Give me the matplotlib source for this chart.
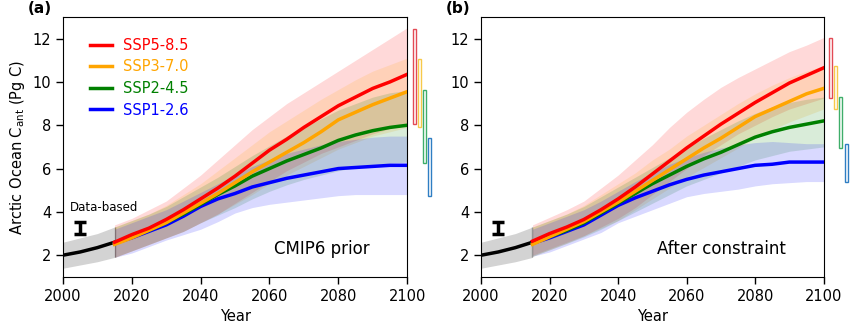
import matplotlib
matplotlib.use("Agg")
import matplotlib.pyplot as plt
import numpy as np
from matplotlib.patches import Rectangle

# annees
hist_years = [2000, 2005, 2010, 2015]
years = list(range(2015, 2101, 5))

# periode historique (Data-based)
hist_mean = [2.0, 2.15, 2.35, 2.6]
hist_low = [1.4, 1.55, 1.7, 1.9]
hist_high = [2.6, 2.8, 3.0, 3.3]
obs_x = 2005
obs_low = 2.97
obs_high = 3.55

scenarios = ["SSP5-8.5", "SSP3-7.0", "SSP2-4.5", "SSP1-2.6"]
line_colors = ["#ff0000", "#ffa500", "#008000", "#0000ff"]
bar_colors = ["#e34a55", "#f7c94a", "#3fae6a", "#2f7ec3"]

# (a) CMIP6 prior
prior_mean = [
    [2.6, 2.95, 3.25, 3.65, 4.1, 4.6, 5.1, 5.65, 6.25, 6.85, 7.35, 7.9, 8.4, 8.9, 9.3, 9.7, 10.0, 10.35],
    [2.5, 2.8, 3.15, 3.5, 3.95, 4.4, 4.85, 5.35, 5.85, 6.3, 6.75, 7.2, 7.7, 8.25, 8.6, 8.95, 9.25, 9.55],
    [2.55, 2.85, 3.15, 3.5, 3.9, 4.35, 4.8, 5.2, 5.65, 6.0, 6.35, 6.65, 6.95, 7.3, 7.55, 7.75, 7.9, 8.0],
    [2.55, 2.8, 3.1, 3.4, 3.8, 4.25, 4.6, 4.85, 5.15, 5.35, 5.55, 5.7, 5.85, 6.0, 6.05, 6.1, 6.15, 6.15],
]
prior_low = [
    [1.9, 2.2, 2.5, 2.8, 3.1, 3.5, 3.9, 4.4, 4.9, 5.4, 5.9, 6.3, 6.7, 7.0, 7.3, 7.6, 7.85, 8.05],
    [1.9, 2.2, 2.5, 2.8, 3.1, 3.5, 3.9, 4.35, 4.8, 5.3, 5.7, 6.1, 6.5, 6.9, 7.2, 7.5, 7.7, 7.9],
    [1.9, 2.2, 2.5, 2.8, 3.1, 3.5, 3.85, 4.2, 4.6, 4.95, 5.25, 5.5, 5.7, 5.9, 6.05, 6.15, 6.25, 6.3],
    [1.9, 2.1, 2.4, 2.7, 2.95, 3.2, 3.55, 3.95, 4.2, 4.35, 4.45, 4.55, 4.65, 4.75, 4.8, 4.8, 4.8, 4.8],
]
prior_high = [
    [3.4, 3.7, 4.1, 4.5, 5.1, 5.7, 6.4, 7.1, 7.8, 8.4, 9.0, 9.5, 10.0, 10.5, 11.0, 11.5, 12.0, 12.5],
    [3.3, 3.6, 3.9, 4.3, 4.8, 5.3, 5.9, 6.5, 7.1, 7.7, 8.2, 8.7, 9.2, 9.65, 10.1, 10.5, 10.8, 11.1],
    [3.3, 3.6, 3.9, 4.25, 4.7, 5.15, 5.6, 6.1, 6.6, 7.05, 7.5, 7.9, 8.3, 8.7, 9.0, 9.3, 9.5, 9.6],
    [3.2, 3.5, 3.8, 4.1, 4.5, 4.9, 5.3, 5.7, 6.1, 6.4, 6.7, 6.9, 7.1, 7.25, 7.35, 7.45, 7.5, 7.5],
]
prior_range_low = [8.05, 7.92, 6.28, 4.74]
prior_range_high = [12.43, 11.08, 9.63, 7.43]

# (b) After constraint
post_mean = [
    [2.65, 3.0, 3.3, 3.65, 4.1, 4.6, 5.15, 5.75, 6.35, 6.95, 7.5, 8.05, 8.55, 9.05, 9.5, 9.95, 10.3, 10.65],
    [2.5, 2.85, 3.2, 3.55, 4.0, 4.45, 4.95, 5.45, 5.95, 6.45, 6.95, 7.4, 7.9, 8.4, 8.75, 9.1, 9.45, 9.7],
    [2.55, 2.85, 3.15, 3.5, 3.95, 4.4, 4.85, 5.3, 5.7, 6.1, 6.45, 6.75, 7.1, 7.45, 7.7, 7.9, 8.05, 8.2],
    [2.55, 2.8, 3.1, 3.4, 3.85, 4.3, 4.65, 4.95, 5.25, 5.5, 5.7, 5.85, 6.0, 6.15, 6.2, 6.3, 6.3, 6.3],
]
post_low = [
    [2.0, 2.3, 2.6, 2.9, 3.3, 3.7, 4.2, 4.8, 5.4, 6.0, 6.6, 7.1, 7.6, 8.0, 8.4, 8.75, 9.0, 9.25],
    [1.95, 2.25, 2.55, 2.9, 3.25, 3.6, 4.1, 4.6, 5.1, 5.6, 6.05, 6.5, 6.95, 7.4, 7.8, 8.15, 8.45, 8.75],
    [1.95, 2.25, 2.55, 2.85, 3.2, 3.6, 4.0, 4.4, 4.8, 5.2, 5.5, 5.8, 6.1, 6.4, 6.6, 6.8, 6.9, 7.0],
    [1.95, 2.15, 2.45, 2.75, 3.05, 3.5, 3.8, 4.1, 4.4, 4.7, 4.85, 4.95, 5.05, 5.2, 5.3, 5.35, 5.4, 5.4],
]
post_high = [
    [3.4, 3.75, 4.1, 4.5, 5.1, 5.7, 6.4, 7.1, 7.9, 8.6, 9.2, 9.75, 10.2, 10.6, 11.0, 11.4, 11.7, 12.05],
    [3.3, 3.6, 3.9, 4.3, 4.8, 5.3, 5.8, 6.4, 6.9, 7.5, 8.0, 8.5, 9.0, 9.45, 9.85, 10.2, 10.5, 10.75],
    [3.3, 3.6, 3.9, 4.25, 4.7, 5.15, 5.6, 6.05, 6.5, 6.95, 7.4, 7.8, 8.2, 8.55, 8.85, 9.05, 9.2, 9.3],
    [3.2, 3.5, 3.8, 4.1, 4.5, 4.95, 5.4, 5.8, 6.2, 6.5, 6.75, 6.95, 7.1, 7.2, 7.25, 7.2, 7.15, 7.15],
]
post_range_low = [9.25, 8.74, 6.97, 5.4]
post_range_high = [12.05, 10.74, 9.29, 7.15]

# positions des barres d'incertitude a droite (en annees)
bar_x = [2101.6, 2103.1, 2104.6, 2106.1]


def draw_panel(fig, ax, mean, low, high, rlow, rhigh, title, letter, legend=False):
    # bande grise + courbe noire de la periode historique
    ax.fill_between(hist_years, hist_low, hist_high, color="#d3d3d3", lw=0, zorder=1)
    ax.vlines(hist_years[-1], hist_low[-1], hist_high[-1], color="#999999", lw=1, zorder=2)
    ax.plot(hist_years, hist_mean, color="black", lw=2.5, zorder=5)
    # scenarios
    for i in range(len(scenarios)):
        ax.fill_between(years, low[i], high[i], color=line_colors[i], alpha=0.15, lw=0, zorder=2)
    for i in range(len(scenarios)):
        ax.plot(years, mean[i], color=line_colors[i], lw=2.5, label=scenarios[i], zorder=6 - i * 0.1)
        ax.add_patch(Rectangle((bar_x[i], rlow[i]), 0.9, rhigh[i] - rlow[i], fill=False,
                               edgecolor=bar_colors[i], lw=1, clip_on=False))
    # erreur data-based
    ax.errorbar([obs_x], [(obs_low + obs_high) / 2], yerr=[(obs_high - obs_low) / 2],
                color="black", lw=2.5, capsize=4, capthick=2.5, zorder=7)
    ax.set_xlim(2000, 2100)
    ax.set_ylim(1, 13)
    ax.set_xticks(range(2000, 2101, 20))
    ax.set_yticks(range(2, 13, 2))
    ax.tick_params(labelsize=10.5, length=5, width=1)
    ax.set_xlabel("Year", fontsize=10.5)
    ax.text(2089, 2.28, title, fontsize=12, ha="right", va="center")
    # lettre du panneau, collee en haut de la figure
    x0 = ax.get_position().x0 - 0.041
    fig.text(x0, 0.997, letter, fontsize=11, fontweight="bold", ha="left", va="top")
    if legend:
        leg = ax.legend(loc="upper left", frameon=False, fontsize=10.5, handlelength=1.5,
                        labelspacing=0.45, bbox_to_anchor=(0.04, 0.97))
        for txt, c in zip(leg.get_texts(), line_colors):
            txt.set_color(c)
        ax.text(2002, 4.2, "Data-based", fontsize=8.5, ha="left", va="center")


fig = plt.figure(figsize=(8.5, 3.32), dpi=100)
ax1 = fig.add_axes([0.074, 0.166, 0.405, 0.783])
ax2 = fig.add_axes([0.566, 0.166, 0.403, 0.783])

draw_panel(fig, ax1, prior_mean, prior_low, prior_high, prior_range_low, prior_range_high,
           "CMIP6 prior", "(a)", legend=True)
draw_panel(fig, ax2, post_mean, post_low, post_high, post_range_low, post_range_high,
           "After constraint", "(b)")
ax1.set_ylabel("Arctic Ocean C$_{\\mathrm{ant}}$ (Pg C)", fontsize=10.5)

fig.savefig("out.png", dpi=100)
